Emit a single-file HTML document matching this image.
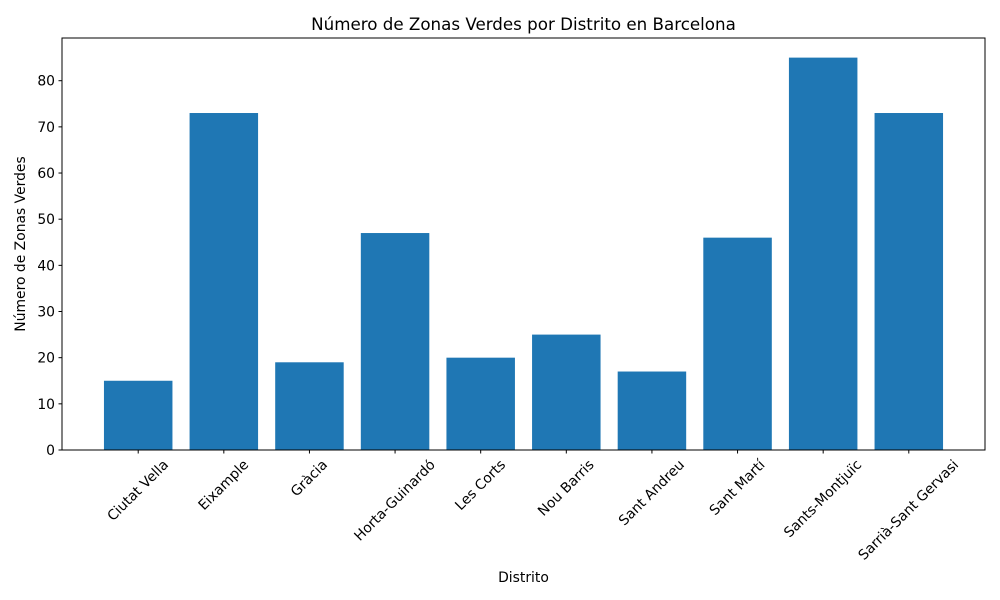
<!DOCTYPE html>
<html><head><meta charset="utf-8"><style>
body{margin:0;background:#fff}
svg{display:block;font-family:"DejaVu Sans","Liberation Sans",sans-serif}
</style></head><body>
<svg id="chart" width="1000" height="600">
<rect width="1000" height="600" fill="#fff"/>
<text x="523.5" y="30" font-size="16.7" text-anchor="middle">Número de Zonas Verdes por Distrito en Barcelona</text>
<g id="bars"></g><g id="yaxis"></g><g id="xaxis"></g>
<rect x="62" y="38" width="923" height="412" fill="none" stroke="#000" stroke-width="1"/>
<text x="523.5" y="582" font-size="13.9" text-anchor="middle">Distrito</text>
<text transform="translate(25,244) rotate(-90)" font-size="13.9" text-anchor="middle">Número de Zonas Verdes</text>
</svg>
<script>
const categories=["Ciutat Vella","Eixample","Gràcia","Horta-Guinardó","Les Corts","Nou Barris","Sant Andreu","Sant Martí","Sants-Montjuïc","Sarrià-Sant Gervasi"];
const values=[15,73,19,47,20,25,17,46,85,73];
const yTicks=[0,10,20,30,40,50,60,70,80];
const NS="http://www.w3.org/2000/svg";
const L=62,R=985,T=38,B=450;
const ymax=Math.max(...values)*1.05;
const n=categories.length;
const xmin=-0.4-(n-0.2)*0.05,xmax=n-1+0.4+(n-0.2)*0.05;
const xs=v=>L+(v-xmin)/(xmax-xmin)*(R-L);
const ys=v=>B-v/ymax*(B-T);
function mk(t,a,p){const e=document.createElementNS(NS,t);for(const k in a)e.setAttribute(k,a[k]);p.appendChild(e);return e;}
const gb=document.getElementById('bars'),gy=document.getElementById('yaxis'),gx=document.getElementById('xaxis');
values.forEach((v,i)=>{
 const r=mk('rect',{x:xs(i-0.4),y:ys(v),width:xs(i+0.4)-xs(i-0.4),height:B-ys(v),fill:'#1f77b4'},gb);
 
 
});
yTicks.forEach(t=>{
 const y=ys(t);
 const l=mk('line',{x1:L-3.5,x2:L,y1:y,y2:y,stroke:'#000'},gy);
 
 
 const tx=mk('text',{x:L-7,y:y+5,'font-size':13.9,'text-anchor':'end'},gy);
 tx.textContent=t;
 
 
});
categories.forEach((c,i)=>{
 const x=xs(i);
 const l=mk('line',{x1:x,x2:x,y1:B,y2:B+3.5,stroke:'#000'},gx);
 
 
 const tx=mk('text',{'font-size':13.9,'text-anchor':'middle','dominant-baseline':'central'},gx);
 tx.textContent=c;
 
 
 const len=tx.getComputedTextLength();
 const h=(len+16)*Math.SQRT1_2;
 const cy=B+7+h/2;
 tx.setAttribute('x',x);tx.setAttribute('y',cy);
 tx.setAttribute('transform','rotate(-45 '+x+' '+cy+')');
});
</script>
</body></html>
